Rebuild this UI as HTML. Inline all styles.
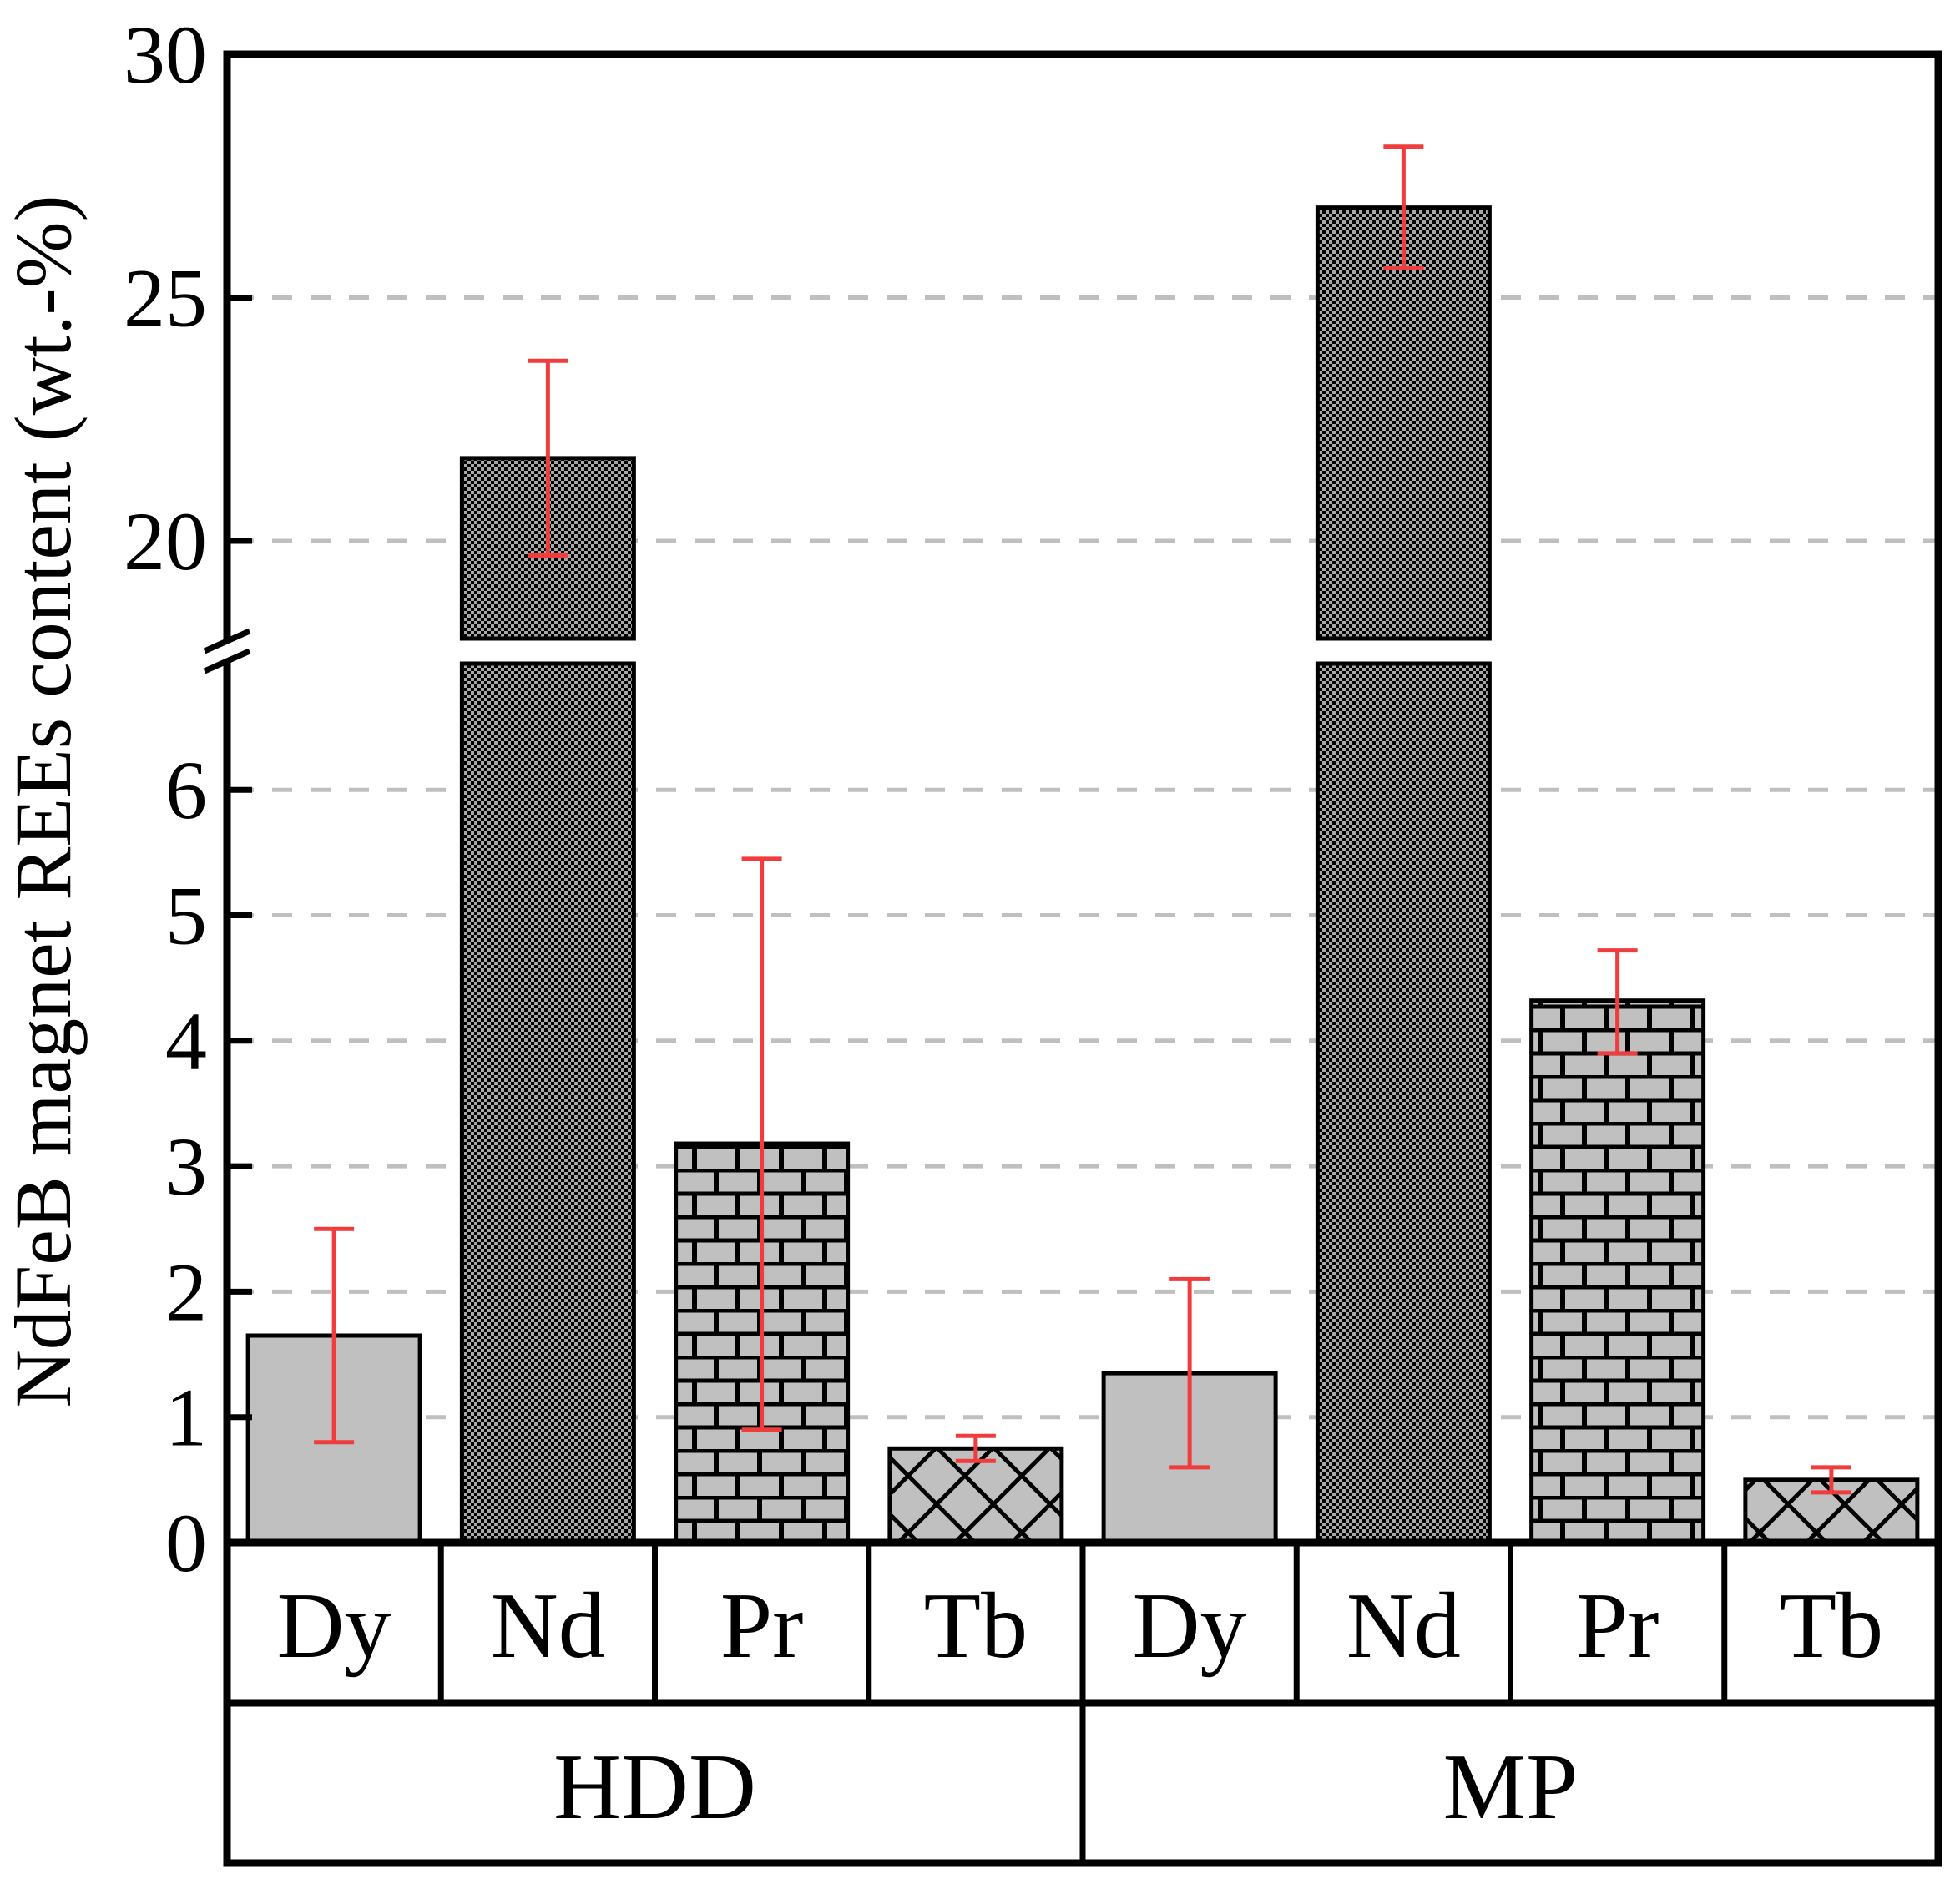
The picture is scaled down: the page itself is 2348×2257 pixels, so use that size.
<!DOCTYPE html>
<html><head><meta charset="utf-8"><style>
html,body{margin:0;padding:0;background:#fff;}
svg{display:block;font-family:"Liberation Serif","Times New Roman",serif;}
</style></head><body>
<svg id="chart" width="2348" height="2257" viewBox="0 0 2348 2257" xmlns="http://www.w3.org/2000/svg">
<defs>
<pattern id="pat-nd" width="8" height="8" patternUnits="userSpaceOnUse">
<rect width="8" height="8" fill="#000"/><rect x="0" y="0" width="4" height="4" fill="#a8a8a8"/><rect x="4" y="4" width="4" height="4" fill="#a8a8a8"/>
</pattern>
<pattern id="pat-pr" width="104" height="56" patternUnits="userSpaceOnUse">
<rect width="104" height="56" fill="#c0c0c0"/>
<line x1="0" y1="2" x2="104" y2="2" stroke="#000" stroke-width="5"/>
<line x1="0" y1="30" x2="104" y2="30" stroke="#000" stroke-width="5"/>
<line x1="26" y1="0" x2="26" y2="28" stroke="#000" stroke-width="6"/>
<line x1="78" y1="0" x2="78" y2="28" stroke="#000" stroke-width="6"/>
<line x1="0" y1="28" x2="0" y2="56" stroke="#000" stroke-width="6"/>
<line x1="52" y1="28" x2="52" y2="56" stroke="#000" stroke-width="6"/>
<line x1="104" y1="28" x2="104" y2="56" stroke="#000" stroke-width="6"/>
</pattern>
<pattern id="pat-tb" width="68" height="68" patternUnits="userSpaceOnUse">
<rect width="68" height="68" fill="#c0c0c0"/>
<line x1="0" y1="0" x2="68" y2="68" stroke="#000" stroke-width="5"/>
<line x1="68" y1="0" x2="0" y2="68" stroke="#000" stroke-width="5"/>
</pattern>
</defs>
<g id="grid"></g>
<g id="bars"></g>
<g id="errs"></g>
<g id="axes"></g>
</svg>
<script>
const groups = ["HDD","MP"];
const elements = ["Dy","Nd","Pr","Tb"];
const values = [1.65, 21.7, 3.18, 0.75, 1.35, 26.85, 4.32, 0.5];
const errLow = [0.8, 19.7, 0.9, 0.65, 0.6, 25.6, 3.9, 0.4];
const errHigh = [2.5, 23.7, 5.45, 0.85, 2.1, 28.1, 4.72, 0.6];
const lowerTicks = [0,1,2,3,4,5,6];
const upperTicks = [20,25,30];

const NS="http://www.w3.org/2000/svg";
const L=272, R=2322, T=65, Y0=1848, UNIT=150.3, U20=648, UUNIT=58.3;
const BREAK_LO=795, BREAK_HI=765;
const COLW=(R-L)/8;
function y(v){ return v<=7 ? Y0 - v*UNIT : U20 - (v-20)*UUNIT; }
function xc(i){ return L + COLW*(i+0.5); }
function mk(tag, attrs, parent){ const e=document.createElementNS(NS,tag); for(const k in attrs) e.setAttribute(k,attrs[k]); parent.appendChild(e); return e; }
const grid=document.getElementById('grid'), bars=document.getElementById('bars'), errs=document.getElementById('errs'), axes=document.getElementById('axes');

lowerTicks.concat(upperTicks).forEach(t=>{
  const yy=y(t);
  if(t!==0 && t!==30){
    const g=mk('line',{x1:L+8,x2:R,y1:yy,y2:yy,stroke:'#bfbfbf','stroke-width':5,'stroke-dasharray':'24 22'},grid);
    
    
    const tk=mk('line',{x1:L,x2:L+30,y1:yy,y2:yy,stroke:'#000','stroke-width':7},axes);
    
    
  }
  const tx=mk('text',{x:L-24,y:yy+34,'text-anchor':'end','font-size':100},axes);
  tx.textContent=t;
  
  
});

const fills=['#c0c0c0','url(#pat-nd)','url(#pat-pr)','url(#pat-tb)'];
values.forEach((v,i)=>{
  const cx=xc(i), w=206, x0=cx-w/2, fill=fills[i%4];
  const name='bar-'+groups[Math.floor(i/4)].toLowerCase()+'-'+elements[i%4].toLowerCase();
  if(v<=7){
    const r=mk('rect',{x:x0,y:y(v),width:w,height:Y0-y(v),fill:fill,stroke:'#000','stroke-width':5},bars);
    
    
  } else {
    const r1=mk('rect',{x:x0,y:BREAK_LO,width:w,height:Y0-BREAK_LO,fill:fill,stroke:'#000','stroke-width':5},bars);
    
    
    const r2=mk('rect',{x:x0,y:y(v),width:w,height:BREAK_HI-y(v),fill:fill,stroke:'#000','stroke-width':5},bars);
    
    
  }
  const eg=mk('g',{stroke:'#f03c3c','stroke-width':5},errs);
  
  
  mk('line',{x1:cx,x2:cx,y1:y(errLow[i]),y2:y(errHigh[i])},eg);
  mk('line',{x1:cx-24,x2:cx+24,y1:y(errLow[i]),y2:y(errLow[i])},eg);
  mk('line',{x1:cx-24,x2:cx+24,y1:y(errHigh[i]),y2:y(errHigh[i])},eg);
});

const fr=mk('rect',{x:L,y:T,width:R-L,height:2232-T,fill:'none',stroke:'#000','stroke-width':9},axes);


const bl=mk('line',{x1:L,x2:R,y1:Y0,y2:Y0,stroke:'#000','stroke-width':9},axes);


const gl=mk('line',{x1:L,x2:R,y1:2040,y2:2040,stroke:'#000','stroke-width':9},axes);


const brk=mk('rect',{x:L-7,y:BREAK_HI+4,width:16,height:BREAK_LO-BREAK_HI-8,fill:'#fff'},axes);


[BREAK_HI+3,BREAK_LO-3].forEach((yy,k)=>{
  const b=mk('line',{x1:L-27,y1:yy+12,x2:L+27,y2:yy-12,stroke:'#000','stroke-width':7},axes);
  
  
});
for(let i=0;i<8;i++){
  if(i>0){
    const d=mk('line',{x1:L+COLW*i,x2:L+COLW*i,y1:Y0,y2:i===4?2232:2040,stroke:'#000','stroke-width':7},axes);
    
    
  }
  const t=mk('text',{x:xc(i),y:1985,'text-anchor':'middle','font-size':112},axes);
  t.textContent=elements[i%4];
  
  
}
groups.forEach((g,k)=>{
  const t=mk('text',{x:L+COLW*(2+4*k),y:2178,'text-anchor':'middle','font-size':112},axes);
  t.textContent=g;
  
  
});
const yt=mk('text',{x:0,y:0,'text-anchor':'middle','font-size':96,transform:'translate(84,960) rotate(-90)'},axes);
yt.textContent='NdFeB magnet REEs content (wt.-%)';


</script>
</body></html>
